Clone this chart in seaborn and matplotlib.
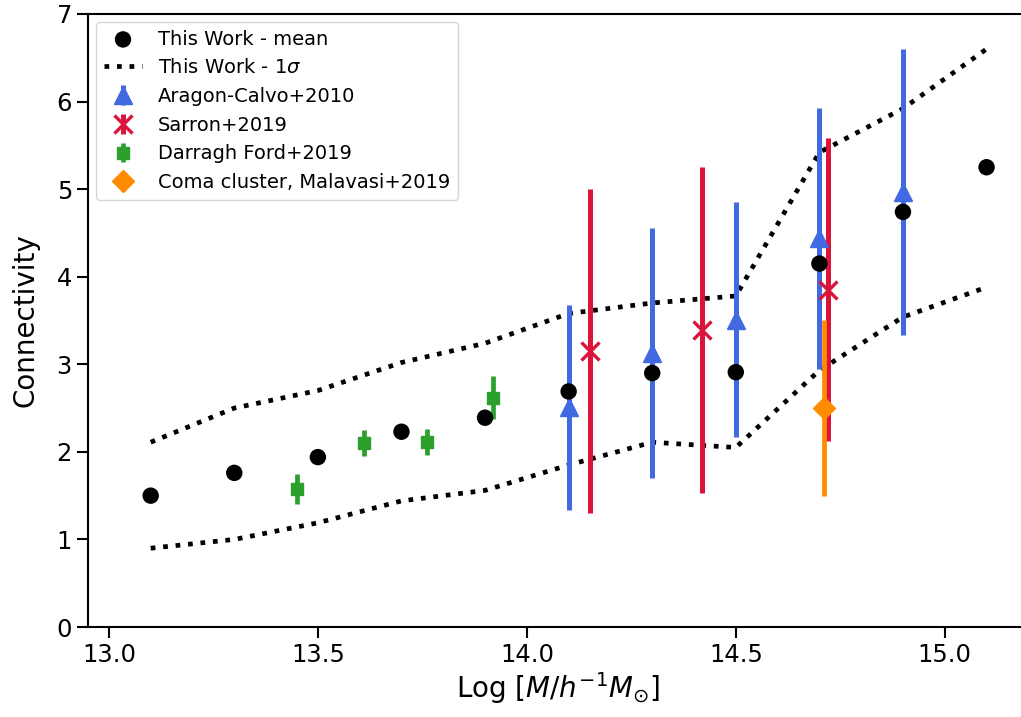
import pandas as pd
import seaborn as sns
import matplotlib.pyplot as plt
import numpy as np

# This work: mean connectivity and 1-sigma envelope
mass = [13.1, 13.3, 13.5, 13.7, 13.9, 14.1, 14.3, 14.5, 14.7, 14.9, 15.1]
mean_conn = [1.50, 1.76, 1.94, 2.23, 2.39, 2.69, 2.90, 2.91, 4.15, 4.74, 5.25]
upper_conn = [2.11, 2.50, 2.70, 3.02, 3.24, 3.58, 3.70, 3.78, 5.42, 5.92, 6.60]
lower_conn = [0.90, 1.00, 1.19, 1.44, 1.56, 1.85, 2.11, 2.05, 2.93, 3.54, 3.88]

# Aragon-Calvo+2010
ac_mass = [14.1, 14.3, 14.5, 14.7, 14.9]
ac_conn = [2.51, 3.13, 3.51, 4.44, 4.97]
ac_err = [1.17, 1.43, 1.34, 1.49, 1.63]

# Sarron+2019
sa_mass = [14.15, 14.42, 14.72]
sa_conn = [3.15, 3.39, 3.85]
sa_err = [1.85, 1.86, 1.73]

# Darragh Ford+2019
df_mass = [13.45, 13.61, 13.76, 13.92]
df_conn = [1.58, 2.10, 2.11, 2.62]
df_err = [0.17, 0.15, 0.15, 0.25]

# Coma cluster, Malavasi+2019
coma_mass = [14.71]
coma_conn = [2.50]
coma_err = [1.0]

plt.rcParams['font.family'] = ['DejaVu Sans']
plt.rcParams['mathtext.fontset'] = 'dejavusans'

fig = plt.figure(figsize=(10.21, 7.17), dpi=100)
ax = fig.add_axes([0.0862, 0.1255, 0.921, 0.855])

this_work = pd.DataFrame({'mass': mass, 'mean': mean_conn,
                          'upper': upper_conn, 'lower': lower_conn})

sns.scatterplot(data=this_work, x='mass', y='mean', color='black', s=140,
                edgecolor='none', label='This Work - mean', ax=ax, zorder=5)
sns.lineplot(data=this_work, x='mass', y='upper', color='black', linestyle=':',
             linewidth=3.4, label=r'This Work - 1$\sigma$', ax=ax)
sns.lineplot(data=this_work, x='mass', y='lower', color='black', linestyle=':',
             linewidth=3.4, ax=ax)

ax.errorbar(ac_mass, ac_conn, yerr=ac_err, fmt='^', color='royalblue',
            markersize=13, elinewidth=3.6, capsize=0, label='Aragon-Calvo+2010')
ax.errorbar(sa_mass, sa_conn, yerr=sa_err, fmt='x', color='crimson',
            markersize=13, markeredgewidth=2.4, elinewidth=3.6, capsize=0,
            label='Sarron+2019')
ax.errorbar(df_mass, df_conn, yerr=df_err, fmt='s', color='#2ca02c',
            markersize=8, elinewidth=3.4, capsize=0, label='Darragh Ford+2019')
ax.errorbar(coma_mass, coma_conn, yerr=coma_err, fmt='D', color='darkorange',
            markersize=11, elinewidth=3.4, capsize=0,
            label='Coma cluster, Malavasi+2019')

ax.set_xlim(12.95, 15.2)
ax.set_ylim(0, 7)
ax.set_xticks([13.0, 13.5, 14.0, 14.5, 15.0])
ax.set_yticks(range(0, 8))
ax.set_xlabel(r'Log $[M/h^{-1}M_{\odot}]$', fontsize=20, labelpad=2)
ax.set_ylabel('Connectivity', fontsize=20, labelpad=12)
ax.tick_params(labelsize=17.5, length=8, width=1.5)
for spine in ax.spines.values():
    spine.set_linewidth(1.5)

ax.legend(loc='upper left', fontsize=14, frameon=True, framealpha=0.8,
          edgecolor='0.8', borderaxespad=0.4)

plt.savefig('out.png', dpi=100)
plt.close()
